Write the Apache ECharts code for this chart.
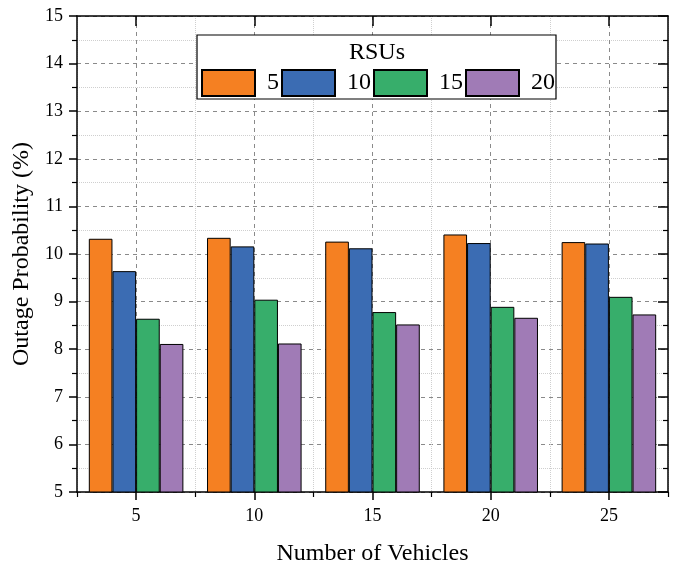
<!DOCTYPE html>
<html>
<head>
<meta charset="utf-8">
<script src="https://cdn.jsdelivr.net/npm/echarts@6/dist/echarts.min.js"></script>
<style>
html,body{margin:0;padding:0;background:#fff;}
#chart{width:678px;height:568px;}
</style>
</head>
<body>
<div id="chart"></div>
<script>
const categories = ['5', '10', '15', '20', '25'];
const seriesNames = ['5', '10', '15', '20'];
const rsu5 = [10.32, 10.34, 10.26, 10.41, 10.25];
const rsu10 = [9.64, 10.16, 10.12, 10.23, 10.22];
const rsu15 = [8.64, 9.04, 8.78, 8.89, 9.10];
const rsu20 = [8.11, 8.12, 8.52, 8.66, 8.73];
const colors = ['#F58022', '#3B6CB3', '#37AE6B', '#A07BB6'];

const FONT = 'Liberation Serif';
const halfCats = ['h0','h1','h2','h3','h4','h5','h6','h7','h8','h9','h10'];

const chart = echarts.init(document.getElementById('chart'), null, {renderer: 'canvas'});

const allData = [rsu5, rsu10, rsu15, rsu20];
const series = allData.map((d, i) => ({
  name: seriesNames[i],
  type: 'bar',
  xAxisIndex: 0,
  yAxisIndex: 0,
  data: d,
  barGap: '0%',
  barCategoryGap: '20%',
  itemStyle: {color: colors[i], borderColor: '#000', borderWidth: 1},
  z: 3
}));

const option = {
  animation: false,
  backgroundColor: '#fff',
  grid: {left: 77, top: 16, right: 10, bottom: 76, containLabel: false, outerBoundsMode: 'none'},
  xAxis: [
    {
      type: 'category',
      data: categories,
      position: 'bottom',
      boundaryGap: true,
      axisLine: {show: true, lineStyle: {color: '#000', width: 1.5}},
      axisTick: {show: true, alignWithLabel: true, length: 8, lineStyle: {color: '#000', width: 1.5}},
      axisLabel: {fontFamily: FONT, fontSize: 18, color: '#000', margin: 15},
      splitLine: {show: true, lineStyle: {color: '#cfcfcf', type: 'dotted', width: 1}},
      name: 'Number of Vehicles',
      nameLocation: 'middle',
      nameGap: 50,
      nameTextStyle: {fontFamily: FONT, fontSize: 24, color: '#000'}
    },
    {
      type: 'category',
      data: halfCats,
      position: 'top',
      boundaryGap: false,
      axisLine: {show: true, lineStyle: {color: '#000', width: 1.5}},
      axisTick: {show: true, inside: true, length: 10, interval: (i) => i % 2 === 1, lineStyle: {color: '#000', width: 1.5}},
      axisLabel: {show: false},
      splitLine: {show: true, interval: (i) => i % 2 === 1, lineStyle: {color: '#8a8a8a', type: [4, 4], width: 1}}
    },
    {
      type: 'category',
      data: categories,
      position: 'bottom',
      boundaryGap: true,
      axisLine: {show: false},
      axisTick: {show: true, length: 5, lineStyle: {color: '#000', width: 1.2}},
      axisLabel: {show: false},
      splitLine: {show: false}
    }
  ],
  yAxis: [
    {
      type: 'value',
      position: 'left',
      min: 5, max: 15, interval: 1,
      axisLine: {show: true, lineStyle: {color: '#000', width: 1.5}},
      axisTick: {show: true, length: 8, lineStyle: {color: '#000', width: 1.5}},
      minorTick: {show: true, splitNumber: 2, length: 5, lineStyle: {color: '#000', width: 1.2}},
      axisLabel: {fontFamily: FONT, fontSize: 18, color: '#000', margin: 14},
      splitLine: {show: true, lineStyle: {color: '#8a8a8a', type: [4, 4], width: 1}},
      minorSplitLine: {show: true, lineStyle: {color: '#cfcfcf', type: 'dotted', width: 1}},
      name: 'Outage Probability (%)',
      nameLocation: 'middle',
      nameGap: 40,
      nameTextStyle: {fontFamily: FONT, fontSize: 24, color: '#000'}
    },
    {
      type: 'value',
      position: 'right',
      min: 5, max: 15, interval: 1,
      axisLine: {show: true, lineStyle: {color: '#000', width: 1.5}},
      axisTick: {show: true, inside: true, length: 10, lineStyle: {color: '#000', width: 1.5}},
      minorTick: {show: true, splitNumber: 2, length: 5, lineStyle: {color: '#000', width: 1.2}},
      axisLabel: {show: false},
      splitLine: {show: false}
    }
  ],
  legend: {
    data: seriesNames,
    left: 196,
    top: 64,
    orient: 'horizontal',
    icon: 'rect',
    itemWidth: 53,
    itemHeight: 26,
    itemGap: 2,
    z: 10,
    textStyle: {fontFamily: FONT, fontSize: 24, color: '#000', padding: [0, 0, 0, 7]}
  },
  graphic: [
    {
      type: 'rect',
      z: 8,
      shape: {x: 197, y: 35, width: 359, height: 64},
      style: {fill: '#fff', stroke: '#000', lineWidth: 1.2}
    },
    {
      type: 'text',
      z: 9,
      x: 377, y: 53,
      style: {text: 'RSUs', fontFamily: FONT, fontSize: 24, fill: '#000', align: 'center', verticalAlign: 'middle'}
    }
  ],
  series: series
};
chart.setOption(option);
</script>
</body>
</html>
